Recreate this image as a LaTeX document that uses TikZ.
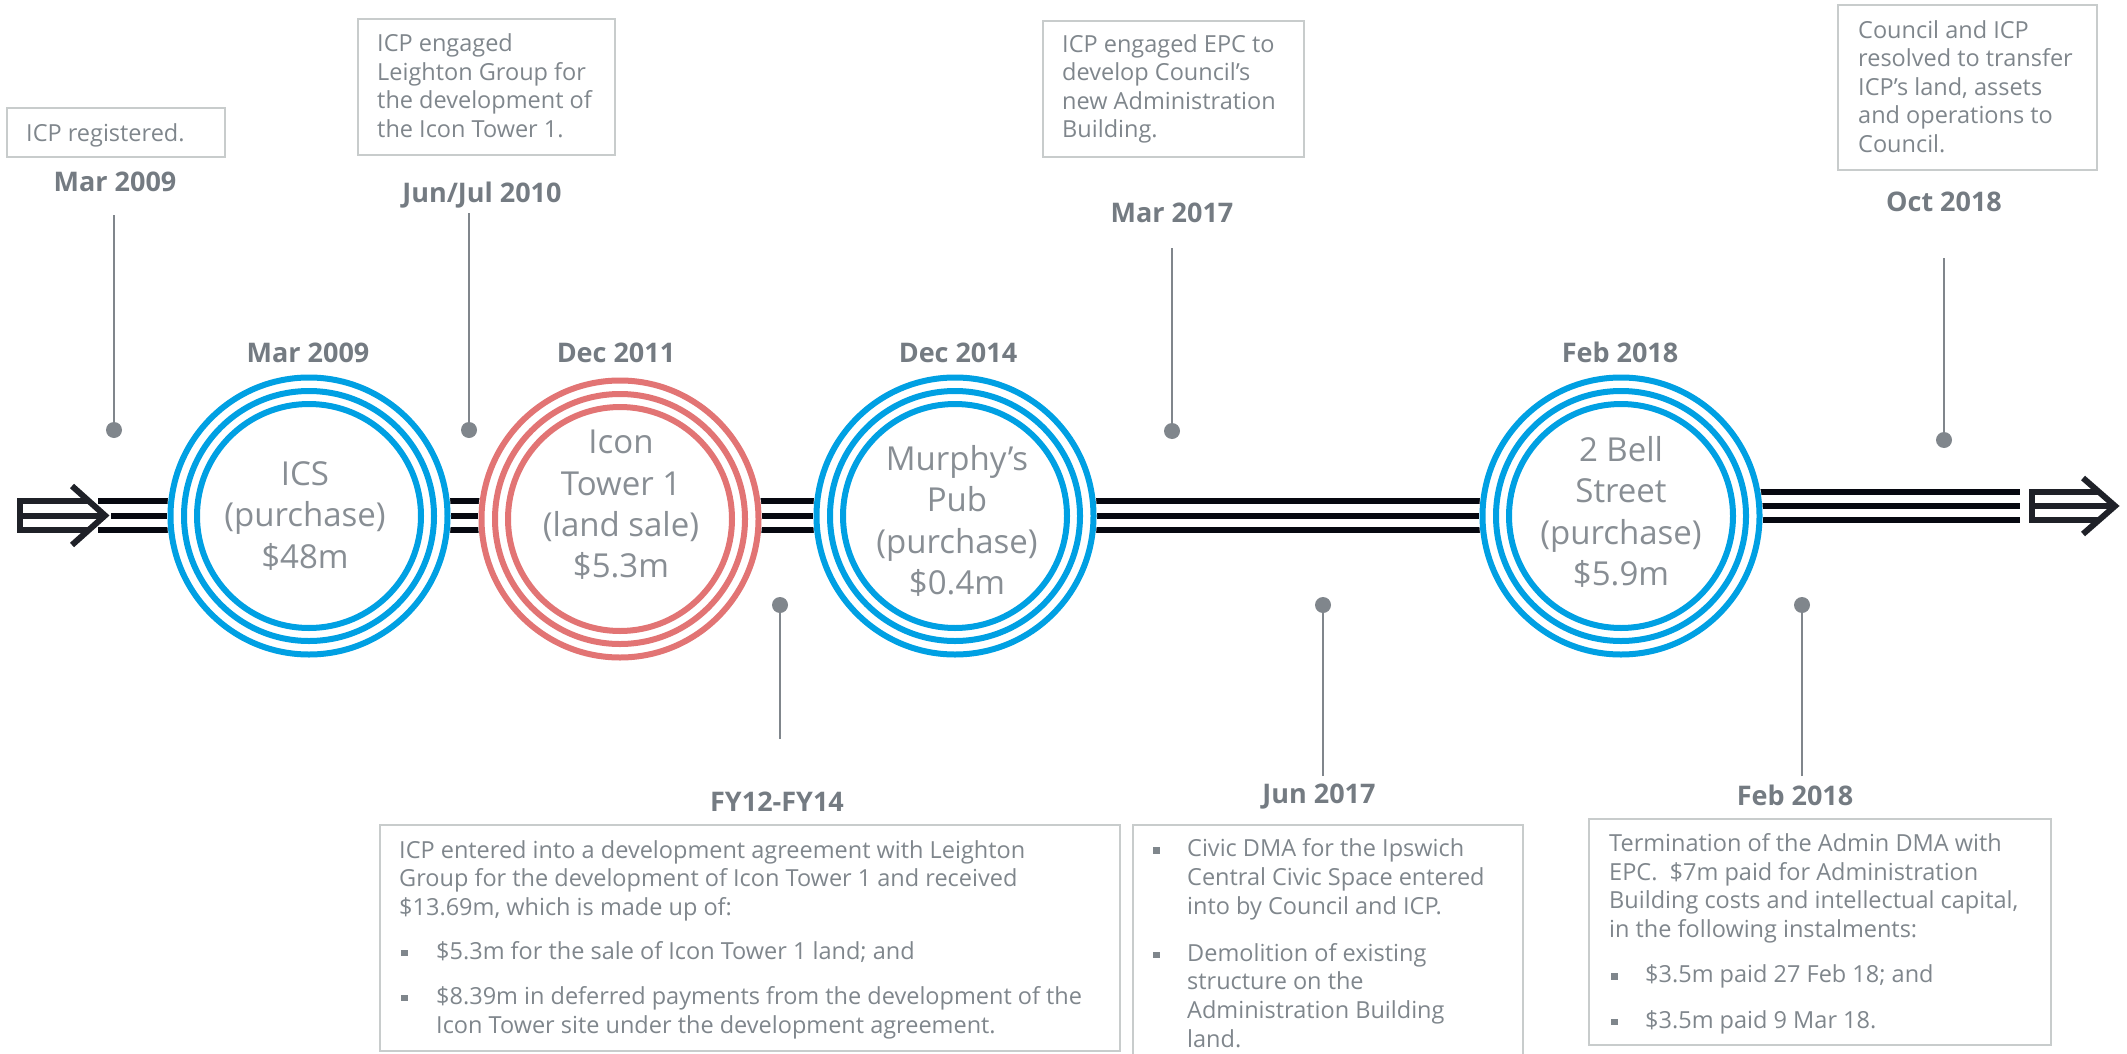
\documentclass[tikz,border=0pt]{standalone}
\usepackage{fontspec}
\setmainfont{Open Sans}
\definecolor{cblue}{RGB}{0,160,227}
\definecolor{cred}{RGB}{226,116,116}
\definecolor{txt}{RGB}{127,134,140}
\definecolor{circgrey}{RGB}{136,142,148}
\definecolor{dategrey}{RGB}{116,123,130}
\definecolor{boxline}{RGB}{200,204,204}
\definecolor{pingrey}{RGB}{128,134,140}
\definecolor{barblack}{RGB}{6,8,16}
\newcommand\bsq{\textcolor{txt}{\rule[3pt]{6.5pt}{6.5pt}}}
\begin{document}
\begin{tikzpicture}[x=1pt,y=-1pt,
  infobox/.style={draw=boxline, line width=2pt, anchor=north west, inner sep=0pt},
  boxtxt/.style={anchor=base west, inner sep=0pt, text=txt, align=left,
    font=\fontsize{23.5}{28.6}\selectfont},
  datelbl/.style={inner sep=0pt, text=dategrey, font=\bfseries\fontsize{27}{32}\selectfont},
  circtxt/.style={inner sep=0pt, text=circgrey, align=center, font=\fontsize{33}{41.3}\selectfont},
  disc/.style={circle, fill=white, minimum size=284pt, inner sep=0pt},
  ring/.style={line width=6pt},
  pindot/.style={circle, fill=pingrey, minimum size=16pt, inner sep=0pt},
  pinline/.style={draw=pingrey, line width=2.3pt},
  barline/.style={draw=barblack, line width=6pt},
  arrowline/.style={draw=barblack!90, line width=6pt, line join=miter}
]
\useasboundingbox (0,0) rectangle (2127,1054);

% ---- timeline bars
\coordinate (bl1) at (98,501);   \coordinate (br1) at (1621,501);
\coordinate (bl2) at (111,515.5); \coordinate (br2) at (1621,515.5);
\coordinate (bl3) at (98,530);   \coordinate (br3) at (1621,530);
\draw[barline] (bl1) -- (br1);
\draw[barline] (bl2) -- (br2);
\draw[barline] (bl3) -- (br3);
\coordinate (rl1) at (1621,492); \coordinate (rr1) at (2020,492);
\coordinate (rl2) at (1621,506); \coordinate (rr2) at (2020,506);
\coordinate (rl3) at (1621,520); \coordinate (rr3) at (2020,520);
\draw[barline] (rl1) -- (rr1);
\draw[barline] (rl2) -- (rr2);
\draw[barline] (rl3) -- (rr3);

% ---- arrows
\draw[arrowline] (89,501) -- (20,501) -- (20,530) -- (89,530);
\draw[arrowline] (20,515.5) -- (100,515.5);
\draw[arrowline] (72,486) -- (105,515.5) -- (72,545);
\draw[arrowline] (2099,492) -- (2032,492) -- (2032,520) -- (2099,520);
\draw[arrowline] (2032,506) -- (2111,506);
\draw[arrowline] (2083,478) -- (2115,506) -- (2083,534);

% ---- circles
\node[disc] (ics) at (309,516) {};
\node[disc] (icon) at (620,519) {};
\node[disc] (murphy) at (955,516) {};
\node[disc] (bell) at (1621,516) {};
\foreach \c/\col in {ics/cblue, icon/cred, murphy/cblue, bell/cblue}{
  \draw[ring, \col] (\c.center) circle[radius=138.5pt];
  \draw[ring, \col] (\c.center) circle[radius=125pt];
  \draw[ring, \col] (\c.center) circle[radius=112pt];
}
\node[circtxt] (icsT) at (305,516) {ICS\\(purchase)\\\$48m};
\node[circtxt] (iconT) at (621,505) {Icon\\Tower 1\\(land sale)\\\$5.3m};
\node[circtxt] (murphyT) at (957,521) {Murphy’s\\Pub\\(purchase)\\\$0.4m};
\node[circtxt] (bellT) at (1621,512) {2 Bell\\Street\\(purchase)\\\$5.9m};

\node[datelbl] (dIcs) at (308,353) {Mar 2009};
\node[datelbl] (dIcon) at (616,353) {Dec 2011};
\node[datelbl] (dMurphy) at (958,353) {Dec 2014};
\node[datelbl] (dBell) at (1620,352) {Feb 2018};

% ---- pins
\node[pindot] (p1) at (114,430) {};  \coordinate (p1e) at (114,215);
\node[pindot] (p2) at (469,430) {};  \coordinate (p2e) at (469,213);
\node[pindot] (p3) at (780,605) {};  \coordinate (p3e) at (780,739);
\node[pindot] (p4) at (1172,431) {}; \coordinate (p4e) at (1172,248);
\node[pindot] (p5) at (1323,605) {}; \coordinate (p5e) at (1323,776);
\node[pindot] (p6) at (1802,605) {}; \coordinate (p6e) at (1802,776);
\node[pindot] (p7) at (1944,440) {}; \coordinate (p7e) at (1944,258);
\foreach \p in {p1,p2,p3,p4,p5,p6,p7}{\draw[pinline] (\p e) -- (\p.center);}

\node[datelbl] (l1) at (115,182) {Mar 2009};
\node[datelbl] (l2) at (482,195) {Jun/Jul 2010};
\node[datelbl] (l3) at (777,802) {FY12-FY14};
\node[datelbl] (l4) at (1172,213) {Mar 2017};
\node[datelbl] (l5) at (1319,797) {Jun 2017};
\node[datelbl] (l6) at (1795,795) {Feb 2018};
\node[datelbl] (l7) at (1944,202) {Oct 2018};

% ---- boxes (text anchored at the baseline of its last line)
\node[infobox, minimum width=218pt, minimum height=49pt] (b1) at (6,107) {};
\node[boxtxt] (t1) at (26,141.7) {ICP registered.};

\node[infobox, minimum width=257pt, minimum height=136pt] (b2) at (357,18) {};
\node[boxtxt] (t2) at (377,137.5) {ICP engaged\\Leighton Group for\\the development of\\the Icon Tower 1.};

\node[infobox, minimum width=261pt, minimum height=136pt] (b4) at (1042,20) {};
\node[boxtxt] (t4) at (1062,137.8) {ICP engaged EPC to\\develop Council’s\\new Administration\\Building.};

\node[infobox, minimum width=259pt, minimum height=165pt] (b7) at (1837,4) {};
\node[boxtxt] (t7) at (1858,152.5) {Council and ICP\\resolved to transfer\\ICP’s land, assets\\and operations to\\Council.};

\node[infobox, minimum width=740pt, minimum height=226pt] (b3) at (379,824) {};
\node[boxtxt] (t3) at (399,1033) {ICP entered into a development agreement with Leighton\\Group for the development of Icon Tower 1 and received\\\$13.69m, which is made up of:\\[15.5pt]\makebox[37pt][l]{\hspace{2pt}\bsq}\$5.3m for the sale of Icon Tower 1 land; and\\[16.5pt]\makebox[37pt][l]{\hspace{2pt}\bsq}\$8.39m in deferred payments from the development of the\\\hspace*{37pt}Icon Tower site under the development agreement.};

\node[infobox, minimum width=390pt, minimum height=250pt] (b5) at (1132,824) {};
\node[boxtxt] (t5) at (1153,1047) {\makebox[34pt][l]{\bsq}Civic DMA for the Ipswich\\\hspace*{34pt}Central Civic Space entered\\\hspace*{34pt}into by Council and ICP.\\[18.5pt]\makebox[34pt][l]{\bsq}Demolition of existing\\\hspace*{34pt}structure on the\\\hspace*{34pt}Administration Building\\\hspace*{34pt}land.};

\node[infobox, minimum width=462pt, minimum height=226pt] (b6) at (1588,818) {};
\node[boxtxt] (t6) at (1609,1028) {Termination of the Admin DMA with\\EPC.\ \ \$7m paid for Administration\\Building costs and intellectual capital,\\in the following instalments:\\[17pt]\makebox[36pt][l]{\hspace{2pt}\bsq}\$3.5m paid 27 Feb 18; and\\[16.5pt]\makebox[36pt][l]{\hspace{2pt}\bsq}\$3.5m paid 9 Mar 18.};
\end{tikzpicture}
\end{document}
